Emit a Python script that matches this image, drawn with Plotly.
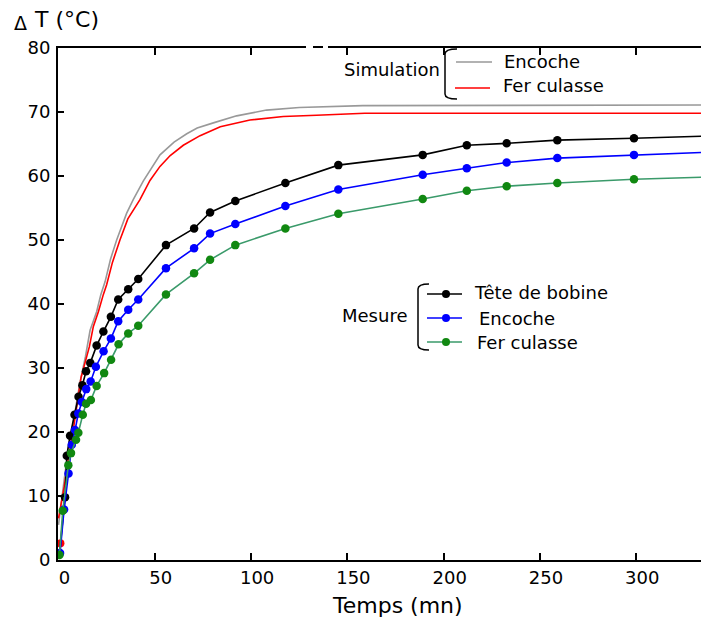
import plotly.graph_objects as go

# ---------------- data ----------------
# Measurements (Mesure)
t_tete = [0.5, 3.4, 4.3, 6.0, 8.3, 10.4, 12.4, 14.3, 16.5, 19.8, 23.3, 27.2, 31.0, 36.2, 41.4,
          55.8, 70.4, 78.7, 91.8, 117.8, 145.3, 189.1, 212.0, 232.7, 259.0, 298.8, 345.0]
y_tete = [1.0, 9.8, 16.3, 19.4, 22.7, 25.5, 27.3, 29.5, 30.8, 33.5, 35.7, 38.0, 40.7, 42.3, 43.9,
          49.2, 51.8, 54.3, 56.1, 58.9, 61.7, 63.3, 64.8, 65.1, 65.6, 65.9, 66.3]

t_enc = [0.8, 2.9, 5.2, 6.9, 8.6, 10.3, 12.1, 14.4, 16.7, 19.4, 23.4, 27.2, 31.0, 36.2, 41.4,
         55.8, 70.4, 78.7, 91.8, 117.8, 145.3, 189.1, 212.0, 232.7, 259.0, 298.8, 345.0]
y_enc = [1.1, 7.9, 13.5, 18.0, 20.3, 22.9, 24.7, 26.7, 27.9, 30.2, 32.6, 34.6, 37.3, 39.1, 40.7,
         45.6, 48.7, 51.0, 52.5, 55.3, 57.9, 60.2, 61.2, 62.1, 62.8, 63.3, 63.8]

t_fer = [0.5, 2.2, 5.1, 6.5, 9.1, 10.3, 12.6, 14.3, 16.8, 19.8, 23.7, 27.3, 31.2, 36.2, 41.4,
         55.8, 70.4, 78.7, 91.8, 117.8, 145.3, 189.1, 212.0, 232.7, 259.0, 298.8, 345.0]
y_fer = [0.8, 7.7, 14.8, 16.7, 18.8, 19.9, 22.7, 24.4, 25.0, 27.2, 29.2, 31.3, 33.7, 35.4, 36.6,
         41.5, 44.8, 46.9, 49.2, 51.8, 54.1, 56.4, 57.7, 58.4, 58.9, 59.5, 59.9]

# Simulation
t_sim_enc = [0, 2, 4, 6, 8, 11, 14, 16.4, 19.8, 22, 24.2, 27, 30.2, 35.4, 38.8, 44, 52.7, 60,
             66.6, 72, 80.4, 92.5, 108, 125, 158, 345]
y_sim_enc = [5.5, 10.5, 15, 18.5, 22, 27.5, 31.8, 35.9, 38.8, 41.5, 43.5, 47, 50.0, 54.2, 56.3,
             59.2, 63.3, 65.3, 66.6, 67.5, 68.3, 69.4, 70.3, 70.7, 71.0, 71.1]

t_sim_fer = [0, 1.5, 3, 5, 8, 11.7, 13.3, 16, 18.1, 20.7, 23.3, 25, 28, 31.9, 36, 42.3, 47.5,
             52.7, 58, 64.8, 73.5, 84, 99.4, 116.7, 134, 159, 345]
y_sim_fer = [6.5, 9, 11.5, 15.5, 21, 28.5, 30.3, 33.3, 36.5, 38.8, 41.5, 43.0, 46.5, 50.0, 53.3,
             56.3, 59.3, 61.5, 63.2, 64.8, 66.3, 67.7, 68.75, 69.3, 69.5, 69.8, 69.8]
t_sim_fer_start = [1.0]
y_sim_fer_start = [2.6]

x_ticks = [0, 50, 100, 150, 200, 250, 300]
y_ticks = [0, 10, 20, 30, 40, 50, 60, 70, 80]

# ---------------- layout helpers ----------------
W, H = 701, 623
L, R, T, B = 58, 0, 48, 63
PW, PH = W - L - R, H - T - B
FONT = "DejaVu Sans"


def px(x):
    return (x - L) / PW


def py(y):
    return (H - B - y) / PH


fig = go.Figure()

fig.add_trace(go.Scatter(x=t_sim_enc, y=y_sim_enc, mode="lines",
                         line=dict(color="#999999", width=1.6), showlegend=False))
fig.add_trace(go.Scatter(x=t_sim_fer, y=y_sim_fer, mode="lines",
                         line=dict(color="#ff0000", width=1.6), showlegend=False))
fig.add_trace(go.Scatter(x=t_sim_fer_start, y=y_sim_fer_start, mode="markers",
                         marker=dict(color="#ff0000", size=8), showlegend=False))
fig.add_trace(go.Scatter(x=t_tete, y=y_tete, mode="lines+markers",
                         line=dict(color="#000000", width=1.6),
                         marker=dict(color="#000000", size=8.5), showlegend=False))
fig.add_trace(go.Scatter(x=t_enc, y=y_enc, mode="lines+markers",
                         line=dict(color="#0000ff", width=1.6),
                         marker=dict(color="#0000ff", size=8.5), showlegend=False))
fig.add_trace(go.Scatter(x=t_fer, y=y_fer, mode="lines+markers",
                         line=dict(color="#3a9a6a", width=1.6),
                         marker=dict(color="#118811", size=8.5), showlegend=False))

shapes = []
annotations = []

# gaps in top frame line
for a, b in [(306, 313), (323, 328)]:
    shapes.append(dict(type="line", xref="paper", yref="paper", x0=px(a), x1=px(b),
                       y0=1, y1=1, line=dict(color="white", width=4), layer="above"))


def brace(xv, xh, yt, yb, r=5):
    p = (f"M {px(xh)},{py(yt)} Q {px(xv)},{py(yt)} {px(xv)},{py(yt + r)} "
         f"L {px(xv)},{py(yb - r)} Q {px(xv)},{py(yb)} {px(xh)},{py(yb)}")
    return dict(type="path", xref="paper", yref="paper", path=p,
                line=dict(color="black", width=1.5))


def text(x, y, s, size=18, xanchor="left"):
    annotations.append(dict(x=px(x), y=py(y), xref="paper", yref="paper", text=s,
                            showarrow=False, xanchor=xanchor, yanchor="middle",
                            font=dict(family=FONT, size=size, color="black")))


# Simulation legend
shapes.append(brace(445, 457, 49, 99))
text(442, 69, "Simulation", xanchor="right")
shapes.append(dict(type="line", xref="paper", yref="paper", x0=px(456), x1=px(492),
                   y0=py(62), y1=py(62), line=dict(color="#999999", width=1.6)))
shapes.append(dict(type="line", xref="paper", yref="paper", x0=px(455), x1=px(490),
                   y0=py(88), y1=py(88), line=dict(color="#ff0000", width=1.6)))
text(502, 61, "Encoche")
text(501, 85, "Fer culasse")

# Mesure legend
shapes.append(brace(418, 429, 284, 350))
text(409, 315, "Mesure", xanchor="right")
for yy, lc, mc in [(294, "#000000", "#000000"), (318, "#0000ff", "#0000ff"),
                   (342, "#3a9a6a", "#118811")]:
    shapes.append(dict(type="line", xref="paper", yref="paper", x0=px(427), x1=px(462),
                       y0=py(yy), y1=py(yy), line=dict(color=lc, width=1.6)))
    shapes.append(dict(type="circle", xref="paper", yref="paper", xsizemode="pixel",
                       ysizemode="pixel", xanchor=px(446), yanchor=py(yy),
                       x0=-4, x1=4, y0=-4, y1=4, fillcolor=mc, line=dict(color=mc, width=0)))
text(472, 292, "Tête de bobine")
text(477, 318, "Encoche")
text(475, 342, "Fer culasse")

# axis titles
text(397, 605, "Temps (mn)", size=22, xanchor="center")
annotations.append(dict(x=px(12), y=py(23), xref="paper", yref="paper", text="Δ",
                        showarrow=False, xanchor="left", yanchor="middle",
                        font=dict(family=FONT, size=19, color="black")))
annotations.append(dict(x=px(32), y=py(19), xref="paper", yref="paper", text="T (°C)",
                        showarrow=False, xanchor="left", yanchor="middle",
                        font=dict(family=FONT, size=22, color="black")))

fig.update_layout(
    width=W, height=H, autosize=False,
    margin=dict(l=L, r=R, t=T, b=B, pad=0),
    paper_bgcolor="white", plot_bgcolor="white",
    font=dict(family=FONT, size=18, color="black"),
    shapes=shapes, annotations=annotations,
    showlegend=False,
)
fig.update_xaxes(range=[-0.26, 333.6], tickvals=x_ticks, ticktext=[str(v) for v in x_ticks],
                 ticks="inside", ticklen=7, tickwidth=1.5, tickcolor="black",
                 showline=True, linecolor="black", linewidth=2, mirror="ticks",
                 showgrid=False, zeroline=False, ticklabelshift=6,
                 tickfont=dict(family=FONT, size=18, color="black"))
fig.update_yaxes(range=[0, 80], tickvals=y_ticks, ticktext=[str(v) for v in y_ticks],
                 ticks="inside", ticklen=6, tickwidth=1.5, tickcolor="black",
                 showline=True, linecolor="black", linewidth=2, mirror=False,
                 showgrid=False, zeroline=False, ticklabelstandoff=2,
                 tickfont=dict(family=FONT, size=18, color="black"))

page_fix = ("document.body.style.margin='0';document.body.style.overflow='hidden';"
            "var gd=document.getElementById('{plot_id}');"
            "Plotly.relayout(gd,{width:701,height:623});")

fig.write_html("out.html", config={"responsive": False, "displayModeBar": False},
               post_script=page_fix)
